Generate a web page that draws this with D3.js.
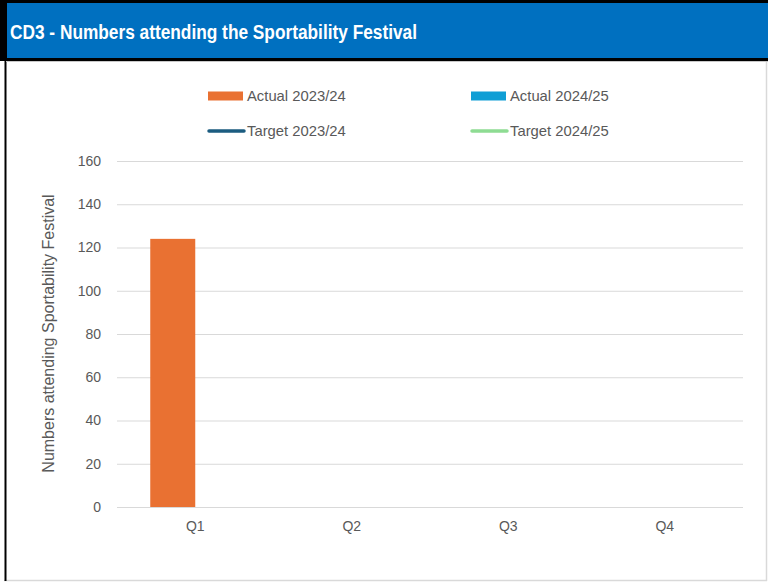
<!DOCTYPE html>
<html>
<head>
<meta charset="utf-8">
<script src="https://cdn.jsdelivr.net/npm/d3@7"></script>
<style>
  html, body { margin: 0; padding: 0; background: #ffffff; }
  svg { display: block; }
</style>
</head>
<body>
<svg id="chart" width="768" height="582"></svg>
<script>
// Quarterly attendance figures
const quarters = ["Q1", "Q2", "Q3", "Q4"];
const actual2324 = [124, null, null, null];
const actual2425 = [null, null, null, null];
const target2324 = [null, null, null, null];
const target2425 = [null, null, null, null];
const yTicks = [0, 20, 40, 60, 80, 100, 120, 140, 160];

const titleText = "CD3 - Numbers attending the Sportability Festival";
const yAxisTitle = "Numbers attending Sportability Festival";

const colors = {
  actual2324: "#E97132",
  actual2425: "#0F9ED5",
  target2324: "#1B5C80",
  target2425: "#8EDC93"
};

const svg = d3.select("#chart");
const W = 768, H = 582;

// Frame: body panel with light border, black edge on the left
svg.append("rect").attr("x", 0).attr("y", 0).attr("width", W).attr("height", H).attr("fill", "#ffffff");
svg.append("line").attr("x1", 766.5).attr("x2", 766.5).attr("y1", 60).attr("y2", 581)
  .attr("stroke", "#d9d9d9").attr("stroke-width", 1.5);
svg.append("line").attr("x1", 4).attr("x2", 767).attr("y1", 580.5).attr("y2", 580.5)
  .attr("stroke", "#d9d9d9").attr("stroke-width", 1.5);
svg.append("line").attr("x1", 5.5).attr("x2", 5.5).attr("y1", 58).attr("y2", 581)
  .attr("stroke", "#000000").attr("stroke-width", 2);

// Header band
svg.append("rect").attr("x", 0).attr("y", 0).attr("width", W).attr("height", 61).attr("fill", "#000000");
svg.append("rect").attr("x", 7).attr("y", 3).attr("width", W - 7).attr("height", 55).attr("fill", "#0070C0");
svg.append("line").attr("x1", 6).attr("x2", W).attr("y1", 61.5).attr("y2", 61.5)
  .attr("stroke", "#c8c8c8").attr("stroke-width", 1);
svg.append("text")
  .attr("x", 10).attr("y", 39)
  .attr("fill", "#ffffff")
  .attr("font-family", "'Liberation Sans', Arial, sans-serif")
  .attr("font-weight", "bold")
  .attr("font-size", 20)
  .attr("textLength", 407)
  .attr("lengthAdjust", "spacingAndGlyphs")
  .text(titleText);

// Plot area
const plot = { left: 117, right: 743, top: 161, bottom: 507 };
const y = d3.scaleLinear().domain([0, 160]).range([plot.bottom, plot.top]);
const x = d3.scaleBand().domain(quarters).range([plot.left, plot.right]).paddingInner(0).paddingOuter(0);
const seriesKeys = ["actual2324", "actual2425"];
const xSub = d3.scaleBand().domain(seriesKeys).range([0, x.bandwidth()]).paddingOuter(0.739).paddingInner(0);

const font = "'Liberation Sans', Arial, sans-serif";
const textColor = "#595959";

// Gridlines and y tick labels via d3 axis
const yAxis = d3.axisLeft(y).tickValues(yTicks).tickSize(-(plot.right - plot.left)).tickPadding(16).tickFormat(d3.format("d"));
const gy = svg.append("g").attr("transform", `translate(${plot.left},0)`).call(yAxis);
gy.select(".domain").remove();
gy.selectAll(".tick line").attr("stroke", "#d9d9d9").attr("stroke-width", 1);
gy.selectAll(".tick text").attr("fill", textColor).attr("font-family", font).attr("font-size", 14);

// Bars
const barData = [];
quarters.forEach((q, i) => {
  barData.push({ q, key: "actual2324", v: actual2324[i] });
  barData.push({ q, key: "actual2425", v: actual2425[i] });
});
svg.append("g").selectAll("rect")
  .data(barData.filter(d => d.v != null))
  .join("rect")
  .attr("x", d => x(d.q) + xSub(d.key))
  .attr("width", xSub.bandwidth())
  .attr("y", d => y(d.v))
  .attr("height", d => y(0) - y(d.v))
  .attr("fill", d => colors[d.key]);

// Target lines (drawn where values exist)
const lineGen = d3.line()
  .defined(d => d.v != null)
  .x(d => x(d.q) + x.bandwidth() / 2)
  .y(d => y(d.v));
[["target2324", target2324], ["target2425", target2425]].forEach(([key, vals]) => {
  svg.append("path")
    .datum(quarters.map((q, i) => ({ q, v: vals[i] })))
    .attr("d", lineGen)
    .attr("fill", "none")
    .attr("stroke", colors[key])
    .attr("stroke-width", 3)
    .attr("stroke-linecap", "round");
});

// X axis labels
const xAxis = d3.axisBottom(x).tickSize(0).tickPadding(14);
const gx = svg.append("g").attr("transform", `translate(0,${plot.bottom})`).call(xAxis);
gx.select(".domain").remove();
gx.selectAll(".tick text").attr("fill", textColor).attr("font-family", font).attr("font-size", 14);

// Y axis title
svg.append("text")
  .attr("transform", `translate(54,${(plot.top + plot.bottom) / 2 - 0.5}) rotate(-90)`)
  .attr("text-anchor", "middle")
  .attr("fill", textColor)
  .attr("font-family", font)
  .attr("font-size", 16)
  .text(yAxisTitle);

// Legend
const legendItems = [
  { key: "actual2324", label: "Actual 2023/24", type: "rect", x: 208, y: 96 },
  { key: "actual2425", label: "Actual 2024/25", type: "rect", x: 471, y: 96 },
  { key: "target2324", label: "Target 2023/24", type: "line", x: 208, y: 131 },
  { key: "target2425", label: "Target 2024/25", type: "line", x: 471, y: 131 }
];
const lg = svg.append("g");
legendItems.forEach(d => {
  if (d.type === "rect") {
    lg.append("rect").attr("x", d.x).attr("y", d.y - 4.5).attr("width", 35).attr("height", 9).attr("fill", colors[d.key]);
  } else {
    lg.append("line").attr("x1", d.x + 1).attr("x2", d.x + 36).attr("y1", d.y).attr("y2", d.y)
      .attr("stroke", colors[d.key]).attr("stroke-width", 3.5).attr("stroke-linecap", "round");
  }
  lg.append("text").attr("x", d.x + 39).attr("y", d.y + 5)
    .attr("fill", textColor).attr("font-family", font).attr("font-size", 14.8)
    .text(d.label);
});
</script>
</body>
</html>
